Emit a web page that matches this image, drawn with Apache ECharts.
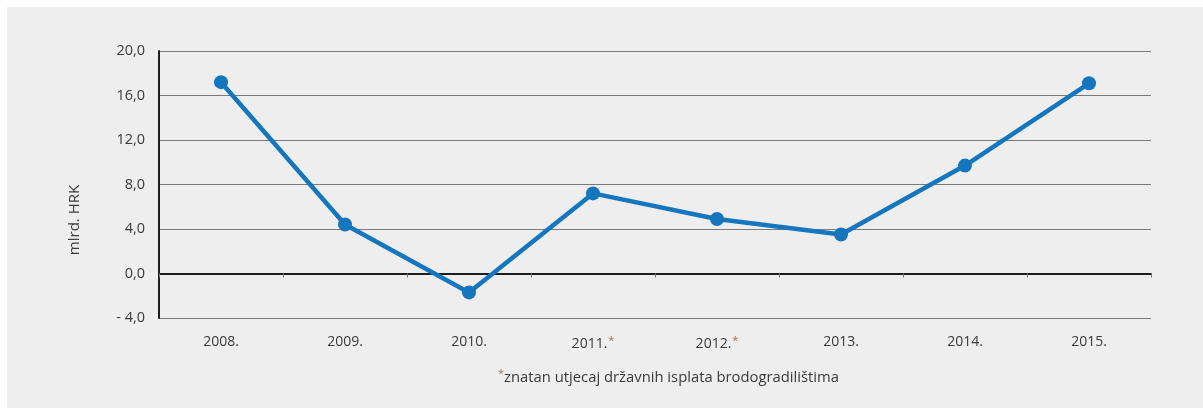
<!DOCTYPE html>
<html>
<head>
<meta charset="utf-8">
<script src="https://cdn.jsdelivr.net/npm/echarts@6/dist/echarts.min.js"></script>
<style>
html,body{margin:0;padding:0;background:#ffffff;}
#chart{position:absolute;left:7px;top:7px;width:1196px;height:401px;background:#eeeeee;}
</style>
</head>
<body>
<div id="chart"></div>
<script>
var categories = ['2008.', '2009.', '2010.', '2011.', '2012.', '2013.', '2014.', '2015.'];
var starred = [false, false, false, true, true, false, false, false];
var values = [17.2, 4.4, -1.7, 7.2, 4.9, 3.5, 9.7, 17.1];
var yAxisName = 'mlrd. HRK';
var footnote = 'znatan utjecaj državnih isplata brodogradilištima';

var chart = echarts.init(document.getElementById('chart'), null, {renderer: 'canvas'});
var font = '"Open Sans", "DejaVu Sans", sans-serif';
var textColor = '#3a3a3a';
var starColor = '#a8744a';

var option = {
  backgroundColor: 'transparent',
  animation: false,
  grid: {left: 152, top: 44, right: 52, bottom: 90, containLabel: false},
  xAxis: [{
    type: 'category',
    data: categories,
    boundaryGap: true,
    axisLine: {onZero: true, lineStyle: {color: '#1e1e1e', width: 2}},
    axisTick: {show: true, length: 4, lineStyle: {color: '#777777', width: 1}},
    axisLabel: {show: false},
    splitLine: {show: false}
  }, {
    type: 'category',
    data: categories,
    position: 'bottom',
    boundaryGap: true,
    axisLine: {show: false, onZero: false},
    axisTick: {show: false},
    splitLine: {show: false},
    axisLabel: {
      margin: 17,
      fontFamily: font,
      fontSize: 14,
      color: textColor,
      formatter: function (v, i) {
        return starred[i] ? '{a|' + v + '}{s|*}' : '{a|' + v + '}';
      },
      rich: {
        a: {fontFamily: font, fontSize: 14, color: textColor, letterSpacing: 0.8},
        s: {fontFamily: font, fontSize: 11, color: starColor, padding: [0, 0, 8, 1]}
      }
    }
  }],
  yAxis: {
    type: 'value',
    min: -4,
    max: 20,
    interval: 4,
    axisLine: {show: true, lineStyle: {color: '#1e1e1e', width: 2}},
    axisTick: {show: false},
    splitLine: {show: true, lineStyle: {color: '#7a7a7a', width: 1}},
    axisLabel: {
      margin: 14,
      fontFamily: font,
      fontSize: 14.5,
      color: textColor,
      letterSpacing: 0.8,
      formatter: function (v) {
        var s = Math.abs(v).toFixed(1).replace('.', ',');
        return v < 0 ? '- ' + s : s;
      }
    }
  },
  graphic: [{
    type: 'text',
    x: 68,
    y: 213,
    rotation: Math.PI / 2,
    style: {
      text: yAxisName,
      fontFamily: font,
      fontSize: 15,
      fill: textColor,
      align: 'center',
      verticalAlign: 'middle'
    }
  }, {
    type: 'text',
    left: 491,
    top: 361,
    style: {
      text: '{s|*}{a|' + footnote + '}',
      rich: {
        a: {fontFamily: font, fontSize: 14.8, fill: textColor},
        s: {fontFamily: font, fontSize: 11, fill: starColor, padding: [0, 0, 8, 0]}
      }
    }
  }],
  series: [{
    type: 'line',
    xAxisIndex: 0,
    data: values,
    symbol: 'circle',
    symbolSize: 14,
    lineStyle: {color: '#1676bd', width: 4.5},
    itemStyle: {color: '#1676bd'},
    z: 5
  }]
};
chart.setOption(option);
</script>
</body>
</html>
